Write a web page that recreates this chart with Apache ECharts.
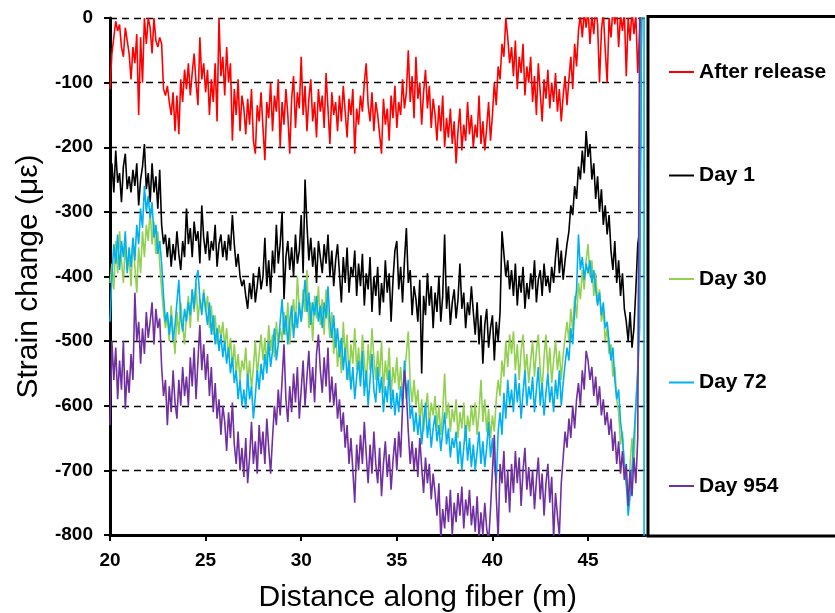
<!DOCTYPE html>
<html>
<head>
<meta charset="utf-8">
<script src="https://cdn.jsdelivr.net/npm/echarts@6/dist/echarts.min.js"></script>
<style>
  html, body { margin: 0; padding: 0; background: #fff; }
  #chart { width: 835px; height: 613px; }
</style>
</head>
<body>
<div id="chart"></div>
<script>
// Strain readings along the fiber, sampled every 0.1 m starting at 20 m.
const distStart = 20.0;
const distStep = 0.1;

const seriesNames = ['After release', 'Day 1', 'Day 30', 'Day 72', 'Day 954'];
const seriesColors = ['#ff0000', '#000000', '#92d050', '#00b0f0', '#7030a0'];

const xTicks = [20, 25, 30, 35, 40, 45];

const afterRelease = [
  -110,-55,-30,-5,-20,-10,-45,-60,-15,-35,
  -55,-95,-45,-70,-25,-150,-30,-100,0,-40,
  0,-15,-55,0,-35,-45,-30,-40,-110,-120,
  -105,-130,-150,-115,-175,-120,-180,-95,-130,-80,
  -110,-70,-120,-85,-55,-100,-135,-30,-95,-70,
  -115,-80,-150,-95,-130,-70,-160,0,-90,-60,
  -120,-45,-100,-70,-190,-110,-150,-95,-175,-120,
  -140,-180,-125,-165,-110,-190,-210,-135,-160,-115,
  -170,-220,-130,-155,-100,-175,-120,-145,-95,-200,
  -130,-165,-110,-150,-210,-125,-90,-170,-115,-140,
  -60,-150,-105,-175,-125,-95,-160,-130,-185,-110,
  -145,-120,-170,-85,-140,-195,-115,-150,-130,-175,
  -120,-160,-105,-145,-185,-125,-150,-110,-210,-140,
  -165,-120,-145,-100,-70,-135,-160,-115,-175,-130,
  -150,-180,-210,-125,-165,-140,-190,-120,-155,-105,
  -170,-130,-150,-95,-140,-115,-50,-130,-90,-155,
  -60,-125,-100,-165,-115,-80,-140,-105,-170,-125,
  -150,-190,-135,-175,-120,-200,-155,-185,-140,-195,
  -160,-225,-175,-140,-205,-165,-190,-130,-180,-150,
  -200,-165,-185,-120,-195,-160,-205,-170,-130,-190,
  -150,-100,-135,-75,-95,-40,-60,0,-30,-70,
  -45,-90,-35,-110,-60,-85,-40,-120,-75,-100,
  -60,-130,-90,-150,-70,-115,-160,-95,-125,-80,
  -140,-100,-130,-85,-145,-110,-160,-120,-90,-135,
  -95,-60,-110,-40,-75,-20,5,-30,10,-15,
  15,-40,5,-25,20,-10,-100,-20,10,-50,
  -100,0,-30,15,-10,20,-45,5,-20,10,
  -90,0,-35,15,-25,5,-85,-20,10
];

const day1 = [
  -260,-225,-270,-205,-255,-240,-285,-230,-210,-265,
  -245,-270,-235,-260,-225,-290,-250,-230,-195,-265,
  -240,-285,-225,-270,-245,-295,-235,-320,-350,-335,
  -370,-340,-385,-350,-375,-330,-365,-390,-345,-370,
  -295,-350,-325,-370,-315,-345,-330,-380,-290,-340,
  -365,-330,-375,-345,-360,-320,-385,-350,-335,-370,
  -345,-375,-335,-360,-305,-350,-385,-365,-400,-415,
  -405,-430,-450,-410,-435,-395,-440,-415,-385,-420,
  -400,-340,-415,-375,-425,-360,-395,-320,-380,-350,
  -300,-435,-370,-345,-390,-355,-400,-335,-380,-360,
  -305,-395,-250,-320,-375,-340,-385,-355,-410,-345,
  -370,-395,-350,-380,-335,-400,-360,-415,-375,-350,
  -395,-440,-370,-410,-355,-425,-385,-400,-360,-430,
  -380,-415,-365,-445,-395,-420,-370,-455,-400,-430,
  -385,-460,-410,-440,-375,-425,-395,-470,-405,-360,
  -345,-420,-385,-440,-375,-325,-410,-390,-460,-415,
  -435,-470,-405,-550,-430,-460,-395,-445,-415,-480,
  -425,-455,-400,-470,-430,-335,-450,-415,-475,-440,
  -420,-465,-435,-380,-450,-425,-480,-440,-460,-415,
  -455,-490,-440,-505,-460,-535,-475,-450,-510,-480,
  -460,-530,-470,-500,-455,-330,-365,-400,-375,-420,
  -390,-430,-380,-445,-400,-425,-385,-450,-410,-435,
  -395,-420,-375,-440,-405,-390,-430,-380,-415,-400,
  -425,-385,-410,-370,-340,-395,-360,-405,-375,-350,
  -330,-290,-305,-260,-280,-230,-250,-205,-240,-175,
  -215,-195,-250,-225,-280,-245,-300,-265,-320,-290,
  -335,-305,-360,-390,-345,-410,-375,-430,-395,-450,
  -470,-500,-455,-510,-480,-420,-350,-330,10
];

const day30 = [
  -410,-380,-420,-345,-395,-330,-375,-410,-350,-390,
  -365,-415,-340,-385,-425,-355,-395,-330,-370,-320,
  -345,-295,-350,-315,-365,-330,-380,-420,-455,-480,
  -460,-500,-445,-485,-520,-455,-490,-440,-475,-505,
  -460,-430,-480,-420,-455,-410,-470,-435,-450,-420,
  -455,-430,-480,-445,-490,-460,-505,-475,-495,-470,
  -510,-480,-525,-495,-540,-505,-550,-520,-560,-530,
  -545,-510,-565,-530,-575,-540,-500,-555,-520,-490,
  -530,-495,-540,-475,-515,-490,-525,-470,-505,-480,
  -500,-455,-490,-440,-505,-465,-435,-480,-400,-450,
  -470,-420,-455,-390,-480,-440,-500,-430,-465,-415,
  -475,-435,-490,-420,-460,-495,-455,-520,-480,-540,
  -500,-550,-470,-525,-490,-560,-505,-535,-480,-545,
  -510,-555,-490,-530,-570,-505,-545,-480,-525,-560,
  -515,-555,-500,-580,-530,-560,-510,-585,-540,-565,
  -525,-575,-540,-590,-550,-520,-485,-565,-595,-560,
  -600,-575,-625,-590,-640,-605,-580,-630,-595,-615,
  -585,-635,-600,-645,-610,-550,-620,-595,-640,-605,
  -625,-590,-650,-610,-635,-595,-655,-615,-640,-600,
  -630,-595,-645,-610,-560,-625,-590,-640,-605,-650,
  -615,-640,-590,-560,-585,-530,-555,-500,-540,-490,
  -520,-485,-545,-505,-560,-515,-490,-550,-520,-565,
  -530,-500,-555,-515,-490,-545,-575,-525,-490,-550,
  -510,-565,-530,-500,-545,-515,-560,-520,-495,-470,
  -500,-450,-485,-430,-465,-410,-435,-390,-420,-375,
  -350,-400,-375,-430,-395,-440,-420,-470,-450,-500,
  -480,-520,-505,-555,-540,-590,-610,-660,-640,-700,
  -720,-750,-690,-650,-700,-600,-540,-300,10
];

const day72 = [
  -470,-400,-350,-380,-335,-390,-345,-370,-330,-395,
  -355,-385,-340,-375,-320,-350,-295,-325,-260,-300,
  -275,-310,-285,-340,-320,-365,-345,-380,-430,-470,
  -455,-490,-460,-500,-475,-440,-405,-465,-485,-450,
  -470,-440,-460,-420,-450,-405,-390,-435,-460,-425,
  -450,-475,-440,-490,-460,-505,-480,-515,-490,-525,
  -500,-535,-510,-550,-525,-565,-545,-590,-560,-600,
  -575,-605,-550,-590,-570,-620,-585,-545,-575,-535,
  -560,-520,-550,-500,-540,-515,-480,-530,-505,-470,
  -435,-490,-460,-505,-470,-445,-495,-455,-480,-440,
  -470,-440,-405,-455,-425,-475,-440,-460,-430,-470,
  -445,-480,-440,-465,-415,-470,-495,-460,-510,-480,
  -525,-495,-545,-510,-560,-530,-575,-540,-590,-555,
  -530,-570,-515,-585,-545,-600,-560,-520,-575,-595,
  -540,-580,-555,-610,-570,-595,-545,-605,-575,-615,
  -580,-610,-570,-600,-530,-590,-560,-620,-600,-640,
  -610,-645,-615,-660,-625,-595,-650,-620,-665,-635,
  -615,-655,-630,-670,-640,-610,-660,-635,-680,-650,
  -665,-640,-690,-655,-700,-665,-630,-685,-650,-695,
  -660,-700,-670,-640,-690,-655,-695,-665,-625,-680,
  -650,-690,-720,-640,-610,-645,-580,-620,-560,-600,
  -575,-610,-550,-595,-565,-620,-580,-545,-600,-570,
  -590,-555,-610,-575,-540,-600,-565,-615,-580,-550,
  -595,-570,-610,-560,-590,-545,-600,-565,-535,-510,
  -530,-480,-505,-450,-420,-335,-390,-370,-405,-380,
  -395,-375,-410,-390,-420,-445,-425,-460,-440,-480,
  -470,-500,-530,-510,-560,-590,-575,-625,-650,-690,
  -720,-770,-740,-700,-650,-600,-550,-480,10
];
// closing edge of the Day 72 trace at the far end of the fiber
const day72Edge = [[47.93, 10], [47.93, -820]];

const day954 = [
  -630,-500,-560,-510,-590,-530,-575,-500,-605,-545,
  -580,-520,-560,-425,-500,-470,-535,-480,-520,-455,
  -495,-470,-440,-505,-450,-480,-465,-540,-585,-560,
  -630,-570,-610,-545,-595,-620,-560,-600,-540,-585,
  -555,-600,-525,-570,-510,-590,-530,-475,-545,-505,
  -560,-520,-585,-540,-610,-565,-620,-590,-645,-600,
  -625,-670,-610,-650,-595,-660,-690,-640,-700,-665,
  -710,-650,-720,-680,-625,-690,-655,-705,-630,-675,
  -640,-690,-620,-665,-705,-650,-600,-630,-575,-615,
  -560,-505,-590,-625,-570,-610,-550,-595,-540,-620,
  -575,-530,-600,-555,-515,-580,-540,-595,-520,-490,
  -545,-580,-525,-570,-510,-595,-555,-600,-565,-620,
  -590,-640,-610,-665,-630,-690,-650,-700,-750,-660,
  -700,-645,-690,-625,-675,-720,-660,-705,-640,-690,
  -720,-665,-740,-690,-655,-710,-675,-730,-685,-650,
  -700,-640,-680,-600,-545,-580,-640,-690,-655,-700,
  -665,-710,-650,-695,-735,-680,-720,-690,-745,-705,
  -735,-770,-720,-805,-760,-790,-740,-780,-730,-800,
  -750,-780,-735,-770,-725,-790,-745,-770,-730,-785,
  -755,-795,-740,-805,-765,-800,-750,-790,-810,-760,
  -700,-645,-740,-805,-690,-720,-670,-750,-700,-765,
  -690,-735,-670,-720,-680,-755,-700,-665,-730,-695,
  -740,-700,-760,-715,-680,-745,-705,-770,-720,-690,
  -750,-710,-805,-735,-770,-800,-720,-680,-640,-665,
  -620,-650,-600,-635,-590,-565,-600,-545,-575,-515,
  -530,-560,-540,-585,-555,-600,-570,-615,-590,-630,
  -610,-645,-620,-670,-640,-690,-655,-705,-670,-715,
  -690,-755,-700,-740,-680,-720,-650,10
];

function toPairs(values) {
  return values.map((v, i) => [Math.round((distStart + i * distStep) * 100) / 100, v]);
}

const seriesData = [
  toPairs(afterRelease),
  toPairs(day1),
  toPairs(day30),
  toPairs(day72).concat(day72Edge),
  toPairs(day954)
];

const FONT = "'Liberation Sans', Arial, sans-serif";

const chart = echarts.init(document.getElementById('chart'), null, { renderer: 'canvas' });

chart.setOption({
  animation: false,
  backgroundColor: '#ffffff',
  grid: { left: 110, right: 189.6, top: 18, bottom: 78, containLabel: false, outerBoundsMode: 'none' },
  xAxis: {
    type: 'value',
    min: 20,
    max: 48,
    interval: 5,
    name: 'Distance along fiber (m)',
    nameLocation: 'middle',
    nameGap: 48,
    nameTextStyle: { fontFamily: FONT, fontSize: 30, color: '#000', padding: [0, 0, 0, 80] },
    axisLine: { show: true, onZero: false, lineStyle: { color: '#000', width: 3 } },
    axisTick: { show: true, inside: false, length: 6, lineStyle: { color: '#000', width: 2 }, customValues: xTicks },
    axisLabel: { fontFamily: FONT, fontSize: 19, fontWeight: 'bold', color: '#000', margin: 16, customValues: xTicks },
    splitLine: { show: false }
  },
  yAxis: {
    type: 'value',
    min: -800,
    max: 0,
    interval: 100,
    name: 'Strain change (\u03bc\u03b5)',
    nameLocation: 'middle',
    nameGap: 66,
    nameTextStyle: { fontFamily: FONT, fontSize: 30, color: '#000' },
    axisLine: { show: true, onZero: false, lineStyle: { color: '#000', width: 3 } },
    axisTick: { show: true, inside: false, length: 6, lineStyle: { color: '#000', width: 2 } },
    axisLabel: { fontFamily: FONT, fontSize: 19, fontWeight: 'bold', color: '#000', margin: 17 },
    splitLine: { show: true, lineStyle: { color: '#000', width: 1.3, type: [7, 5] } }
  },
  legend: {
    orient: 'vertical',
    left: 664,
    top: 55,
    icon: 'rect',
    itemWidth: 25,
    itemHeight: 2,
    itemGap: 79.5,
    textStyle: { fontFamily: FONT, fontSize: 21, fontWeight: 'bold', color: '#000', lineHeight: 24 },
    data: seriesNames
  },
  graphic: [{
    type: 'rect',
    z: 1,
    shape: { x: 648, y: 16.5, width: 200, height: 519.5 },
    style: { fill: '#ffffff', stroke: '#000000', lineWidth: 3 }
  }],
  series: seriesNames.map((name, i) => ({
    name: name,
    type: 'line',
    data: seriesData[i],
    symbol: 'none',
    showSymbol: false,
    clip: true,
    z: 2 + i,
    color: seriesColors[i],
    lineStyle: { color: seriesColors[i], width: 1.6 },
    emphasis: { disabled: true }
  }))
});
</script>
</body>
</html>
